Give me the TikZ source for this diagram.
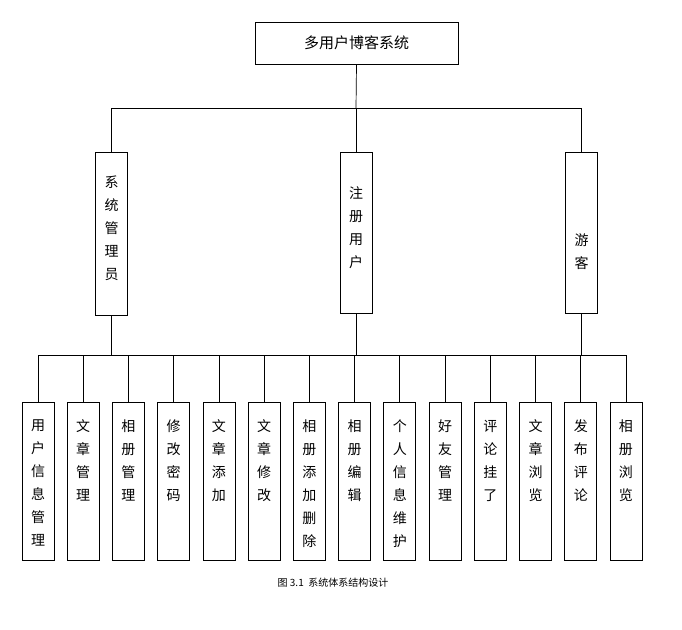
\documentclass[tikz,border=0pt]{standalone}
\usepackage{fontspec}
\newfontfamily\cjk{Noto Sans CJK SC}
\begin{document}
\begin{tikzpicture}[x=1pt,y=-1pt,
  box/.style={draw,line width=0.7pt,minimum width=32pt,inner sep=0pt},
  vtxt/.style={anchor=north,font=\cjk\fontsize{14}{23}\selectfont,align=center,inner sep=0pt},
  ln/.style={line width=0.7pt}]
\useasboundingbox (0,0) rectangle (682,629);
\node[box,minimum width=203pt,minimum height=42pt,font=\cjk\fontsize{15}{18}\selectfont] (top) at (356.5,43) {多用户博客系统};
\node[box,minimum height=163pt] (a) at (111.5,233.5) {};
\node[box,minimum height=161pt] (b) at (356,232.5) {};
\node[box,minimum height=161pt] (c) at (581.5,232.5) {};
\node[vtxt] at ([yshift=-24pt]a.north) {系\\统\\管\\理\\员};
\node[vtxt] at ([yshift=-35pt]b.north) {注\\册\\用\\户};
\node[vtxt] at ([yshift=-82pt]c.north) {游\\客};
\coordinate (h1) at (111.5,108);
\coordinate (h2) at (581.5,108);
\draw[ln] (top.south) -- (356,108);
\draw[ln] (h1) -- (h2);
\draw[ln] (h1) -- (a.north);
\draw[ln] (356,108) -- (b.north);
\draw[ln] (h2) -- (c.north);
\coordinate (l1) at (38,355);
\coordinate (l2) at (626,355);
\draw[ln] (l1) -- (l2);
\draw[ln] (a.south) -- (111.5,355);
\draw[ln] (b.south) -- (356,355);
\draw[ln] (c.south) -- (581.5,355);
\foreach \i/\t in {0/{用\\户\\信\\息\\管\\理},1/{文\\章\\管\\理},2/{相\\册\\管\\理},3/{修\\改\\密\\码},4/{文\\章\\添\\加},5/{文\\章\\修\\改},6/{相\\册\\添\\加\\删\\除},7/{相\\册\\编\\辑},8/{个\\人\\信\\息\\维\\护},9/{好\\友\\管\\理},10/{评\\论\\挂\\了},11/{文\\章\\浏\\览},12/{发\\布\\评\\论},13/{相\\册\\浏\\览}}{
  \node[box,minimum height=158pt] (n\i) at (38+45.23*\i,481) {};
  \draw[ln] (38+45.23*\i,355) -- (n\i.north);
  \node[vtxt] at ([yshift=-18pt]n\i.north) {\t};
}
\node[font=\cjk\fontsize{10}{12}\selectfont] (cap) at (333,583) {图 3.1\ \ 系统体系结构设计};
\end{tikzpicture}
\end{document}
